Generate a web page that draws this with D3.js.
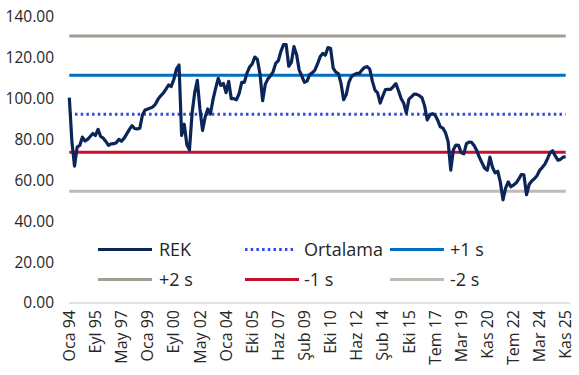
<!DOCTYPE html>
<html><head><meta charset="utf-8">
<script src="https://cdn.jsdelivr.net/npm/d3@7"></script>
<style>
html,body{margin:0;padding:0;background:#fff;}
svg{display:block;font-family:"Open Sans",sans-serif;}
</style></head>
<body><svg id="c" width="579" height="375"></svg>
<script>
// REK series, one value every 2 months from Oca 94 to Kas 25
const monthsPerValue = 2;
const rek = [
100.5,79,67,76.3,77.1,81.2,79.3,80.1,81.5,83,
82,85,81.5,80.7,79.1,77.2,77.9,78,78.5,80.1,
79.2,80.7,82.8,85,86.8,85.4,85.2,85.6,92,94.5,
94.9,95.4,96,97.4,99.8,101.4,102.8,104.7,106.7,106,
109.4,114.5,116.5,82,87.5,77.5,75,93,103,109,
95,84.5,91,95,92.5,99.5,105,110,106.5,107.5,
103,108.5,100,100,99.5,102.5,108,108,112.5,115.5,
117,120.4,119.2,112,99,107,109.6,111.2,113.2,117.3,
118.6,123.2,126.5,126.5,115.9,117.8,125.5,121.5,114,111.1,
108,108.6,111.8,112.7,114,117,120.5,122.2,121.3,125,
124.7,115,113,112.3,107.5,99.5,102,108,110.8,111.8,
112.4,112.4,114,115.3,115.7,114.5,108.6,104.2,102.9,97.9,
101.3,104.5,104.6,104.6,105.9,107.4,103.9,100.1,97.8,93,
99.8,101,102.3,102.1,101.5,100.5,96.5,89.6,92,92.7,
92,89.5,86.2,85.6,83.3,79,65,75,77.3,77.2,
73.5,73,78,78.8,78.6,77,74.5,71.2,68.5,66,
65,71.4,66.3,63.7,64.5,59,50.5,56.2,59.3,56.9,
57.7,58.7,60.6,62.9,62.7,53,58,59.7,60.8,62.3,
64.9,66.3,67.9,70.5,73.5,74.5,72,69.9,70.3,71.4,71.6
];
const ortalama = 92.4;
const plus1 = 111.5;
const plus2 = 130.7;
const minus1 = 73.8;
const minus2 = 54.7;
const tickLabels = ["Oca 94","Eyl 95","May 97","Oca 99","Eyl 00","May 02","Oca 04","Eki 05","Haz 07","Şub 09","Eki 10","Haz 12","Şub 14","Eki 15","Tem 17","Mar 19","Kas 20","Tem 22","Mar 24","Kas 25"];
const tickStep = 20; // months between labels
const yTicks = [0,20,40,60,80,100,120,140];

const svg = d3.select("#c");
const lastIdx = (rek.length-1)*monthsPerValue;
const x = d3.scaleLinear().domain([0,lastIdx]).range([69.3,565.7]);
const y = d3.scaleLinear().domain([0,140]).range([303,17]);

// y labels
svg.append("g").selectAll("text").data(yTicks).join("text")
  .attr("x",54).attr("y",d=>y(d)).attr("dy","0.35em")
  .attr("text-anchor","end").attr("font-size",15.5).attr("fill","#262626")
  .text(d=>d3.format(".2f")(d));

// x axis line
svg.append("line").attr("x1",69).attr("x2",570).attr("y1",y(0)).attr("y2",y(0))
  .attr("stroke","#d9d9d9").attr("stroke-width",1.5);

// x labels
svg.append("g").selectAll("text").data(tickLabels).join("text")
  .attr("transform",(d,i)=>`translate(${x(i*tickStep)},310) rotate(-90)`)
  .attr("dy","0.35em").attr("text-anchor","end").attr("font-size",16).attr("fill","#262626")
  .text(d=>d);

const refs = [
  {v:plus2, c:"#a19c94", dash:null},
  {v:plus1, c:"#0070c0", dash:null},
  {v:ortalama, c:"#2f48e6", dash:"2.5,3.2"},
  {v:minus1, c:"#c8102e", dash:null},
  {v:minus2, c:"#bfbab3", dash:null}
];
svg.append("g").selectAll("line").data(refs).join("line")
  .attr("x1",x(0)).attr("x2",x(lastIdx))
  .attr("y1",d=>y(d.v)).attr("y2",d=>y(d.v))
  .attr("stroke",d=>d.c).attr("stroke-width",3)
  .attr("stroke-dasharray",d=>d.dash);

const line = d3.line().x((d,i)=>x(i*monthsPerValue)).y(d=>y(d));
svg.append("path").datum(rek).attr("d",line).attr("fill","none")
  .attr("stroke","#0b2559").attr("stroke-width",3.2).attr("stroke-linejoin","round");

// legend
const legend = [
  {t:"REK", c:"#0b2559", dash:null, col:0, row:0},
  {t:"Ortalama", c:"#2f48e6", dash:"2.5,3.2", col:1, row:0},
  {t:"+1 s", c:"#0070c0", dash:null, col:2, row:0},
  {t:"+2 s", c:"#a19c94", dash:null, col:0, row:1},
  {t:"-1 s", c:"#c8102e", dash:null, col:1, row:1},
  {t:"-2 s", c:"#bfbab3", dash:null, col:2, row:1}
];
const colX = [98,245,390];
const rowY = [249.5,279.5];
const lg = svg.append("g").selectAll("g").data(legend).join("g")
  .attr("transform",d=>`translate(${colX[d.col]},${rowY[d.row]})`);
lg.append("line").attr("x1",0).attr("x2",d=>d.col===1&&d.row===0?50:54).attr("y1",0).attr("y2",0)
  .attr("stroke",d=>d.c).attr("stroke-width",3).attr("stroke-dasharray",d=>d.dash);
lg.append("text").attr("x",d=>d.col===0?61:(d.col===1?59:60)).attr("dy","0.35em")
  .attr("font-size",18).attr("fill","#262626").text(d=>d.t);
</script></body></html>
